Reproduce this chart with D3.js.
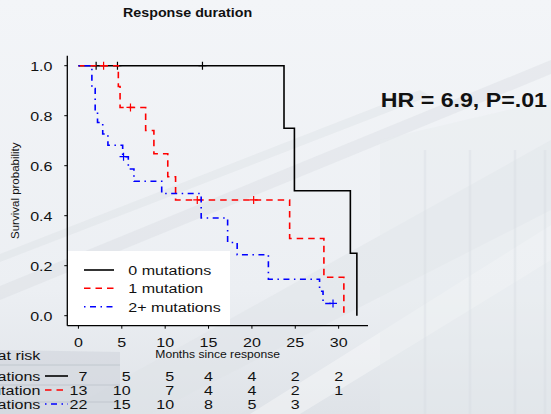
<!DOCTYPE html>
<html>
<head>
<meta charset="utf-8">
<script src="https://cdn.jsdelivr.net/npm/d3@7"></script>
<style>
  html, body { margin: 0; padding: 0; background: #eef1f5; }
  svg { display: block; }
  text { font-family: "Liberation Sans", Arial, Helvetica, sans-serif; fill: #111; }
</style>
</head>
<body>
<svg id="chart" width="551" height="414"></svg>
<script>
// Kaplan-Meier step curves (time in months, survival probability after each step)
const groups = ["0 mutations", "1 mutation", "2+ mutations"];

const times0 = [0, 23.7, 24.9, 31.35, 32.1];
const surv0  = [1, 0.75, 0.5, 0.25, 0];
const censT0 = [2.04, 4.5, 14.3];
const censS0 = [1, 1, 1];
const end0   = 32.1;

const times1 = [0, 4.6, 4.8, 7.75, 8.7, 10.3, 11.2, 24.35, 28.3, 30.6];
const surv1  = [1, 0.917, 0.833, 0.741, 0.648, 0.556, 0.463, 0.309, 0.154, 0];
const censT1 = [2.9, 6.0, 13.7, 20.2];
const censS1 = [1, 0.833, 0.463, 0.463];
const end1   = 30.6;

const times2 = [0, 1.55, 1.93, 2.2, 2.8, 3.4, 5.1, 5.75, 6.4, 9.6, 14.15, 17.2, 18.3, 21.9, 27.8, 28.2];
const surv2  = [1, 0.909, 0.818, 0.773, 0.727, 0.682, 0.636, 0.587, 0.538, 0.489, 0.391, 0.293, 0.244, 0.146, 0.098, 0.049];
const censT2 = [5.2, 29.35];
const censS2 = [0.636, 0.049];
const end2   = 29.35;

// Numbers at risk
const riskTimes = [0, 5, 10, 15, 20, 25, 30];
const risk0 = [7, 5, 5, 4, 4, 2, 2];
const risk1 = [13, 10, 7, 4, 4, 2, 1];
const risk2 = [22, 15, 10, 8, 5, 3, null];

const xTicks = [0, 5, 10, 15, 20, 25, 30];
const yTicks = [0, 0.2, 0.4, 0.6, 0.8, 1.0];

const titleText = "Response duration";
const xLabel = "Months since response";
const yLabel = "Survival probability";
const hrText = "HR = 6.9, P=.01";
const riskTitle = "Number at risk";

const colors = ["#000000", "#ff0000", "#0000ff"];
const dashes = [null, "6.5,5", "1.5,4.5,6,4.5"];

const svg = d3.select("#chart");
const W = 551, H = 414;
const SX = 1.19; // horizontal text stretch

// ---- background ----
const defs = svg.append("defs");
const bg = defs.append("linearGradient").attr("id", "bg").attr("x1", 0).attr("y1", 0).attr("x2", 0).attr("y2", 1);
bg.append("stop").attr("offset", "0%").attr("stop-color", "#f3f5f8");
bg.append("stop").attr("offset", "70%").attr("stop-color", "#eceff3");
bg.append("stop").attr("offset", "100%").attr("stop-color", "#dfe3e8");
svg.append("rect").attr("width", W).attr("height", H).attr("fill", "url(#bg)");

const deco = svg.append("g").attr("class", "backdrop");
const bands = [
  { pts: [[0, 300], [0, 286], [551, 60], [551, 74]], fill: "#cfd5dc", op: 0.3 },
  { pts: [[0, 262], [0, 254], [420, 90], [430, 96]], fill: "#d3d9df", op: 0.3 },
  { pts: [[60, 414], [150, 414], [551, 210], [551, 140]], fill: "#dde2e7", op: 0.45 },
  { pts: [[250, 414], [300, 414], [551, 260], [551, 225]], fill: "#ffffff", op: 0.35 },
  { pts: [[0, 350], [0, 414], [120, 414], [120, 352]], fill: "#c9cfd6", op: 0.45 },
  { pts: [[380, 140], [551, 100], [551, 414], [380, 414]], fill: "#e6eaee", op: 0.4 }
];
bands.forEach(b => {
  deco.append("polygon").attr("points", b.pts.map(p => p.join(",")).join(" "))
    .attr("fill", b.fill).attr("opacity", b.op);
});
[425, 470, 515, 545].forEach(vx => {
  deco.append("line").attr("x1", vx).attr("x2", vx).attr("y1", 150).attr("y2", H)
    .attr("stroke", "#d6dbe1").attr("stroke-width", 2.5).attr("opacity", 0.35);
});
[365, 385, 402].forEach(hy => {
  deco.append("line").attr("x1", 0).attr("x2", 120).attr("y1", hy).attr("y2", hy)
    .attr("stroke", "#bfc6ce").attr("stroke-width", 2).attr("opacity", 0.45);
});

// ---- scales ----
const tMax = d3.max([end0, end1, end2]);
const x = d3.scaleLinear().domain([-0.04 * tMax, 1.04 * tMax]).range([67.3, 368]);
const y = d3.scaleLinear().domain([-0.04, 1.04]).range([325.7, 55.7]);

function stext(parent, px, py, str, size, anchor, weight, sx) {
  return parent.append("text")
    .attr("transform", `translate(${px},${py}) scale(${sx === undefined ? SX : sx},1)`)
    .attr("text-anchor", anchor || "start")
    .attr("font-size", size)
    .attr("font-weight", weight || "normal")
    .text(str);
}

// ---- legend box (under the axes) ----
const legendTop = 251, legendRight = 230;
svg.append("rect").attr("x", x.range()[0]).attr("y", legendTop)
  .attr("width", legendRight - x.range()[0]).attr("height", y.range()[0] - legendTop)
  .attr("fill", "#ffffff");

// ---- curves ----
const stepLine = d3.line().x(d => x(d[0])).y(d => y(d[1])).curve(d3.curveStepAfter);
const series = [
  { t: times0, s: surv0, ct: censT0, cs: censS0, end: end0 },
  { t: times1, s: surv1, ct: censT1, cs: censS1, end: end1 },
  { t: times2, s: surv2, ct: censT2, cs: censS2, end: end2 }
];
series.forEach((d, i) => {
  const pts = d.t.map((t, k) => [t, d.s[k]]);
  const last = pts[pts.length - 1];
  if (d.end > last[0]) pts.push([d.end, last[1]]);
  svg.append("path").attr("d", stepLine(pts))
    .attr("fill", "none").attr("stroke", colors[i]).attr("stroke-width", 1.6)
    .attr("stroke-dasharray", dashes[i]);
  d.ct.forEach((ct, k) => {
    const cx = x(ct), cy = y(d.cs[k]);
    svg.append("path").attr("d", `M${cx - 4},${cy}H${cx + 4}M${cx},${cy - 4}V${cy + 4}`)
      .attr("stroke", colors[i]).attr("stroke-width", 1.2).attr("fill", "none");
  });
});

// ---- axes ----
const axisG = svg.append("g");
axisG.append("line").attr("x1", x.range()[0]).attr("x2", x.range()[0])
  .attr("y1", y.range()[1]).attr("y2", y.range()[0]).attr("stroke", "#000").attr("stroke-width", 1.3);
axisG.append("line").attr("x1", x.range()[0]).attr("x2", x.range()[1])
  .attr("y1", y.range()[0]).attr("y2", y.range()[0]).attr("stroke", "#000").attr("stroke-width", 1.3);

yTicks.forEach(v => {
  axisG.append("line").attr("x1", x.range()[0] - 3).attr("x2", x.range()[0])
    .attr("y1", y(v)).attr("y2", y(v)).attr("stroke", "#000").attr("stroke-width", 1);
  stext(axisG, 52.5, y(v) + 4.8, d3.format(".1f")(v), 13.5, "end");
});
xTicks.forEach(v => {
  axisG.append("line").attr("x1", x(v)).attr("x2", x(v))
    .attr("y1", y.range()[0]).attr("y2", y.range()[0] + 3).attr("stroke", "#000").attr("stroke-width", 1);
  stext(axisG, x(v), 346.7, String(v), 13.5, "middle");
});

// axis titles
stext(svg, (x.range()[0] + x.range()[1]) / 2, 358.3, xLabel, 10.2, "middle");
svg.append("text")
  .attr("transform", `translate(18.5,${(y.range()[0] + y.range()[1]) / 2}) rotate(-90)`)
  .attr("text-anchor", "middle").attr("font-size", 11.5).text(yLabel);

// title and hazard ratio
stext(svg, 187.6, 17.3, titleText, 12, "middle", "bold");
stext(svg, 380.7, 106.7, hrText, 19.5, "start", "bold");

// ---- legend entries ----
const legRows = [270, 288.3, 306.7];
groups.forEach((g, i) => {
  svg.append("line").attr("x1", 84).attr("x2", 114).attr("y1", legRows[i]).attr("y2", legRows[i])
    .attr("stroke", colors[i]).attr("stroke-width", 1.6).attr("stroke-dasharray", dashes[i]);
  stext(svg, 128.3, legRows[i] + 5, g, 13.5, "start");
});

// ---- numbers at risk (row labels run off the left edge) ----
stext(svg, 40.4, 359.5, riskTitle, 13.5, "end");
const riskRows = [risk0, risk1, risk2];
const riskY = [380.5, 394.5, 408.5];
const digitW = 0.556 * 13.5 * SX;
riskRows.forEach((row, r) => {
  stext(svg, 40.4, riskY[r], groups[r], 13.5, "end");
  svg.append("line").attr("x1", 45).attr("x2", 68).attr("y1", riskY[r] - 4.5).attr("y2", riskY[r] - 4.5)
    .attr("stroke", colors[r]).attr("stroke-width", 1.6).attr("stroke-dasharray", dashes[r]);
});
riskTimes.forEach((t, c) => {
  const vals = riskRows.map(row => row[c]).filter(v => v !== null);
  const maxDigits = d3.max(vals, v => String(v).length);
  riskRows.forEach((row, r) => {
    if (row[c] === null) return;
    stext(svg, x(t) + maxDigits * digitW / 2, riskY[r], String(row[c]), 13.5, "end");
  });
});
</script>
</body>
</html>
